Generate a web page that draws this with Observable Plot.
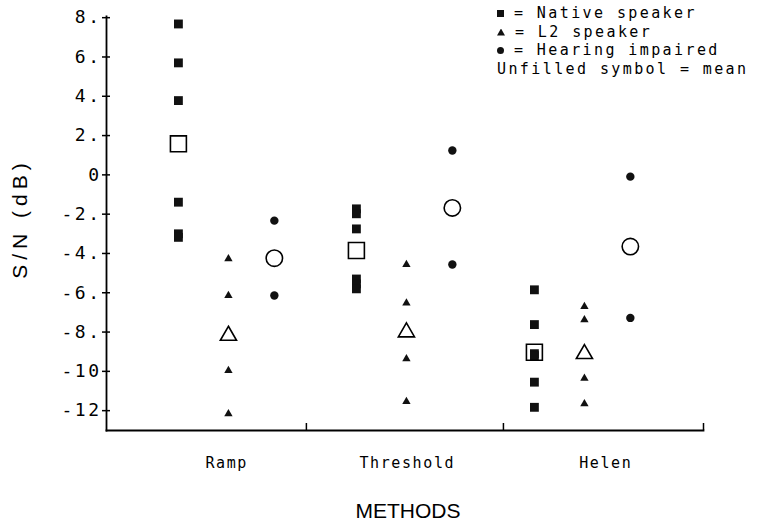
<!DOCTYPE html>
<html><head><meta charset="utf-8">
<script src="https://cdn.jsdelivr.net/npm/d3@7"></script>
<script src="https://cdn.jsdelivr.net/npm/@observablehq/plot@0.6"></script>
<style>
body{margin:0;background:#fff;}
#wrap{position:relative;width:762px;height:527px;overflow:hidden;}
#legend{position:absolute;left:497px;top:4px;font-family:"DejaVu Sans Mono",monospace;font-size:15px;letter-spacing:2.4px;line-height:18.5px;color:#000;white-space:pre;}
.sym{display:inline-block;width:7px;height:7px;background:#111;margin-right:10px;vertical-align:1px;}
.tri{width:8px;clip-path:polygon(50% 0,100% 100%,0 100%);}
.cir{border-radius:50%;}
g[aria-label="y-axis tick label"] text{letter-spacing:2.5px;}
g[aria-label="x-axis tick label"] text{letter-spacing:1.6px;}
</style>
</head><body>
<div id="wrap">
<div id="legend"><div><span class="sym"></span>= Native speaker</div><div><span class="sym tri"></span>= L2 speaker</div><div><span class="sym cir"></span>= Hearing impaired</div><div>Unfilled symbol = mean</div></div>
</div>
<script>
// ---- data ----
const methods = ["Ramp", "Threshold", "Helen"];
const groups = ["Native speaker", "L2 speaker", "Hearing impaired"];

const nativeRamp = [7.68, 5.70, 3.78, -1.39, -3.0, -3.18];
const nativeThreshold = [-1.73, -1.98, -2.75, -5.3, -5.55, -5.8];
const nativeHelen = [-5.85, -7.62, -9.1, -9.2, -10.55, -11.83];

const l2Ramp = [-4.27, -6.14, -9.96, -12.16];
const l2Threshold = [-4.56, -6.53, -9.36, -11.54];
const l2Helen = [-6.70, -7.38, -10.35, -11.65];

const hiRamp = [-2.33, -6.14];
const hiThreshold = [1.24, -4.56];
const hiHelen = [-0.09, -7.28];

const meanNative = [1.58, -3.85, -9.03];
const meanL2 = [-8.18, -8.01, -9.11];
const meanHI = [-4.24, -1.68, -3.65];

const yTicks = [8, 6, 4, 2, 0, -2, -4, -6, -8, -10, -12];
const yTickLabels = ["8.", "6.", "4.", "2.", "0", "-2.", "-4.", "-6.", "-8.", "-10", "-12"];

// ---- layout (positions on the x scale, not data) ----
const xDomain = [-0.685, 2.669];
const yDomain = [-13.01, 8.06];
const groupOffset = {"Native speaker": -0.281, "L2 speaker": 0, "Hearing impaired": 0.258};
const xTickPos = [0.438, 1.545, 2.669];
const catPos = [-0.01, 1.005, 2.12];

const series = {
  "Native speaker": [nativeRamp, nativeThreshold, nativeHelen],
  "L2 speaker": [l2Ramp, l2Threshold, l2Helen],
  "Hearing impaired": [hiRamp, hiThreshold, hiHelen]
};
const means = {"Native speaker": meanNative, "L2 speaker": meanL2, "Hearing impaired": meanHI};

const rows = [];
const meanRows = [];
groups.forEach(g => {
  methods.forEach((m, i) => {
    series[g][i].forEach(v => rows.push({group: g, method: m, x: i + groupOffset[g], value: v}));
    meanRows.push({group: g, method: m, x: i + groupOffset[g], value: means[g][i]});
  });
});

const yLabelMap = new Map(yTicks.map((t, i) => [t, yTickLabels[i]]));
const catMap = new Map(catPos.map((p, i) => [p, methods[i]]));
const mono = "DejaVu Sans Mono";
const symbolOf = {"Native speaker": "square", "L2 speaker": "triangle", "Hearing impaired": "circle"};
const rFilled = {"Native speaker": 5, "L2 speaker": 3.1, "Hearing impaired": 4.2};
const rOpen = {"Native speaker": 9, "L2 speaker": 6, "Hearing impaired": 8.2};

const marks = [
  Plot.frame({anchor: "left", strokeWidth: 1.8}),
  Plot.frame({anchor: "bottom", strokeWidth: 1.8}),
  Plot.tickY(yTicks, {y: d => d, insetRight: 593, strokeWidth: 1.5}),
  Plot.tickX(xTickPos, {x: d => d, insetTop: 407, strokeWidth: 1.5}),
  Plot.axisY({ticks: yTicks, tickFormat: d => yLabelMap.get(d), tickSize: 4, tickPadding: 1, fontSize: 18, fontFamily: mono, strokeWidth: 1.5, label: null}),
  Plot.axisX({ticks: catPos, tickFormat: d => catMap.get(d), tickSize: 0, tickPadding: 27, fontSize: 15, fontFamily: mono, label: null}),
  Plot.text(["S/N (dB)"], {frameAnchor: "left", textAnchor: "middle", rotate: -90, dx: -86, dy: -5, fontSize: 21, fontFamily: "Liberation Sans"}),
  Plot.text(["METHODS"], {frameAnchor: "bottom", textAnchor: "middle", dx: 3, dy: 87, fontSize: 21, fontFamily: "Liberation Sans"})
];
groups.forEach(g => {
  marks.push(Plot.dot(rows.filter(d => d.group === g), {x: "x", y: "value", symbol: symbolOf[g], r: rFilled[g], fill: "#111", stroke: "none"}));
});
groups.forEach(g => {
  marks.push(Plot.dot(meanRows.filter(d => d.group === g), {x: "x", y: "value", symbol: symbolOf[g], r: rOpen[g], fill: "none", stroke: "#000", strokeWidth: 1.6}));
});

const chart = Plot.plot({
  width: 762, height: 527,
  marginLeft: 106, marginRight: 59, marginTop: 16, marginBottom: 97,
  x: {domain: xDomain, axis: null},
  y: {domain: yDomain, axis: null},
  style: {background: "white", color: "#000", overflow: "visible"},
  marks
});
d3.select(chart).selectAll("text").filter(function() { return this.textContent === "S/N (dB)"; }).style("letter-spacing", "5px");
document.getElementById("wrap").prepend(chart);
</script>
</body></html>
